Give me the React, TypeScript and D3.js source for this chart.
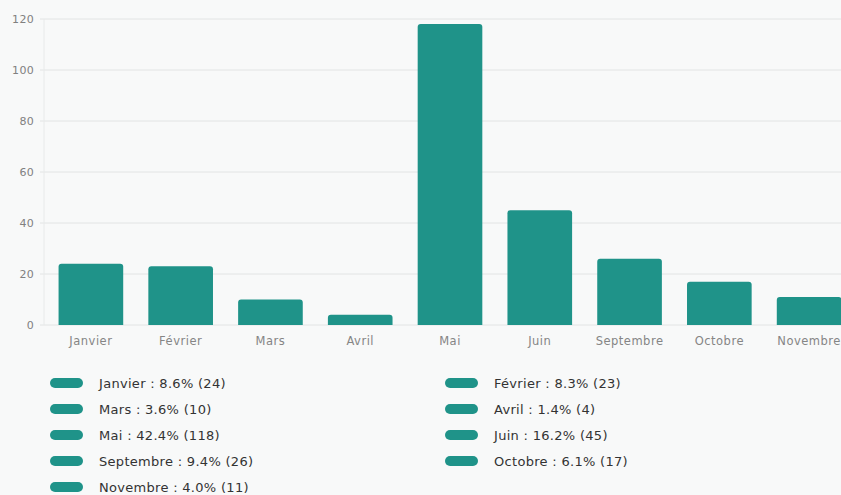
import * as d3 from "d3";

const MONTHS = ["Janvier", "Février", "Mars", "Avril", "Mai", "Juin", "Septembre", "Octobre", "Novembre"];
const COUNTS = [24, 23, 10, 4, 118, 45, 26, 17, 11];
const PERCENTS = ["8.6%", "8.3%", "3.6%", "1.4%", "42.4%", "16.2%", "9.4%", "6.1%", "4.0%"];
const Y_TICKS = [0, 20, 40, 60, 80, 100, 120];

const WIDTH = 841;
const HEIGHT = 495;
const BAR = "#1f9389";
const FONT = "'DejaVu Sans', sans-serif";

export default function App() {
  const x = d3.scaleBand<string>().domain(MONTHS).range([46, 854]).paddingInner(0.28).paddingOuter(0.14);
  const y = d3.scaleLinear().domain([0, 120]).range([325, 19]);
  const r = 3;

  const barPath = (x0: number, y0: number, w: number, h: number) => {
    const rr = Math.min(r, h / 2);
    return `M${x0},${y0 + h}V${y0 + rr}Q${x0},${y0} ${x0 + rr},${y0}H${x0 + w - rr}Q${x0 + w},${y0} ${x0 + w},${y0 + rr}V${y0 + h}Z`;
  };

  const legendRow = (i: number) => Math.floor(i / 2);
  const legendCol = (i: number) => i % 2;

  return (
    <svg width={WIDTH} height={HEIGHT} style={{ display: "block", position: "absolute", left: 0, top: 0, background: "#f8f9f9" }}>
      {Y_TICKS.map((t) => (
        <g key={t}>
          <line x1={40} x2={WIDTH} y1={y(t)} y2={y(t)} stroke="#e2e4e4" strokeWidth={1} />
          <text x={34} y={y(t)} dy="0.35em" textAnchor="end" fontFamily={FONT} fontSize={11} letterSpacing={0.3} fill="#808080">
            {t}
          </text>
        </g>
      ))}
      <line x1={44} x2={44} y1={y(120)} y2={y(0)} stroke="#e8eaea" />

      {MONTHS.map((m, i) => {
        const bx = x(m)!;
        const top = y(COUNTS[i]);
        return (
          <g key={m}>
            <path d={barPath(bx, top, x.bandwidth(), y(0) - top)} fill={BAR} />
            <text x={bx + x.bandwidth() / 2} y={341} dy="0.35em" textAnchor="middle" fontFamily={FONT} fontSize={11.5} letterSpacing={0.5} fill="#858585">
              {m}
            </text>
          </g>
        );
      })}

      {MONTHS.map((m, i) => {
        const lx = legendCol(i) === 0 ? 50 : 445;
        const ly = 383 + legendRow(i) * 26;
        return (
          <g key={`lg-${m}`}>
            <rect x={lx} y={ly - 5} width={33} height={10} rx={5} fill={BAR} />
            <text x={lx + 49} y={ly} dy="0.35em" fontFamily={FONT} fontSize={13} letterSpacing={0.3} fill="#333">
              {`${m} : ${PERCENTS[i]} (${COUNTS[i]})`}
            </text>
          </g>
        );
      })}
    </svg>
  );
}
